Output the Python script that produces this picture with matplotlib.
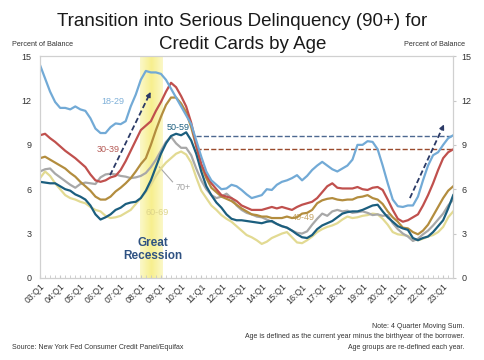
import matplotlib
matplotlib.use('Agg')
import matplotlib.pyplot as plt
from matplotlib.colors import LinearSegmentedColormap
import numpy as np

plt.rcParams['font.family'] = ['Liberation Sans', 'DejaVu Sans']

# quarterly values, 03:Q1 .. 23:Q3 (percent of balance, 4 quarter moving sum)
age_18_29 = [14.4, 13.5, 12.6, 11.9, 11.5, 11.5, 11.4, 11.6, 11.4, 11.3,
             10.8, 10.1, 9.8, 9.8, 10.2, 10.45, 10.4, 10.6, 11.6, 12.4,
             13.4, 14.0, 13.9, 13.9, 13.8, 13.4, 12.8, 12.2, 11.6, 11.0,
             10.4, 9.3, 8.2, 7.2, 6.6, 6.3, 6.0, 6.05, 6.3, 6.2,
             5.95, 5.65, 5.4, 5.5, 5.6, 6.0, 5.95, 6.3, 6.5, 6.6,
             6.75, 6.95, 6.6, 6.9, 7.3, 7.6, 7.85, 7.6, 7.35, 7.2,
             7.4, 7.6, 8.0, 9.0, 9.0, 9.25, 9.2, 8.7, 7.6, 6.4,
             5.3, 4.85, 4.8, 4.9, 4.9, 5.5, 6.6, 7.6, 8.3, 8.5,
             9.0, 9.45, 9.65]
age_30_39 = [9.65, 9.75, 9.45, 9.2, 8.9, 8.6, 8.35, 8.1, 7.8, 7.5,
             7.0, 6.6, 6.5, 6.6, 6.8, 6.9, 7.3, 7.9, 8.6, 9.3,
             10.0, 10.3, 10.6, 11.3, 11.9, 12.6, 13.2, 12.9, 12.3, 11.6,
             10.5, 9.0, 7.7, 6.95, 6.4, 6.0, 5.6, 5.5, 5.4, 5.2,
             4.9, 4.75, 4.6, 4.6, 4.6, 4.7, 4.8, 4.7, 4.8, 4.7,
             4.6, 4.8, 4.95, 5.05, 5.15, 5.4, 5.8, 6.2, 6.4, 6.1,
             6.05, 6.05, 6.05, 6.15, 6.0, 5.95, 6.1, 6.15, 5.95, 5.3,
             4.6, 4.0, 3.8, 3.9, 4.1, 4.3, 4.9, 5.6, 6.4, 7.3,
             8.1, 8.5, 8.7]
age_40_49 = [8.1, 8.2, 8.0, 7.8, 7.6, 7.4, 7.1, 6.85, 6.5, 6.2,
             5.9, 5.5, 5.3, 5.3, 5.5, 5.85, 6.1, 6.4, 6.75, 7.2,
             7.7, 8.1, 9.0, 10.0, 10.9, 11.7, 12.2, 12.2, 11.8, 11.2,
             10.2, 8.9, 7.6, 6.75, 6.1, 5.8, 5.5, 5.35, 5.2, 4.95,
             4.7, 4.5, 4.3, 4.25, 4.15, 4.15, 4.05, 4.05, 4.05, 4.15,
             4.05, 4.1, 4.35, 4.4, 4.6, 5.05, 5.25, 5.35, 5.4, 5.3,
             5.25, 5.3, 5.3, 5.45, 5.5, 5.6, 5.4, 5.3, 5.0, 4.5,
             4.1, 3.8, 3.4, 3.35, 3.1, 2.95, 3.2, 3.6, 4.2, 4.8,
             5.4, 5.9, 6.2]
age_50_59 = [6.5, 6.45, 6.4, 6.4, 6.2, 6.0, 5.9, 5.65, 5.5, 5.3,
             4.9, 4.3, 3.95, 4.1, 4.3, 4.6, 4.75, 5.0, 5.1, 5.15,
             5.4, 5.9, 6.6, 7.5, 8.4, 9.1, 9.6, 9.75, 9.65, 9.85,
             9.3, 8.4, 7.2, 6.2, 5.6, 5.1, 4.75, 4.3, 4.0, 3.9,
             3.9, 3.85, 3.8, 3.75, 3.7, 3.8, 3.85, 3.65, 3.5, 3.4,
             3.2, 2.95, 2.75, 2.7, 2.9, 3.3, 3.55, 3.7, 3.85, 4.1,
             4.35, 4.45, 4.5, 4.5, 4.6, 4.75, 4.9, 4.95, 4.5, 4.1,
             3.8, 3.5, 3.35, 3.25, 2.7, 2.55, 2.7, 2.8, 3.1, 3.5,
             3.9, 4.7, 5.6]
age_60_69 = [6.75, 7.2, 6.9, 6.4, 6.0, 5.6, 5.4, 5.3, 5.15, 5.05,
             4.8, 4.6, 4.5, 4.2, 4.05, 4.1, 4.2, 4.4, 4.6, 5.0,
             5.4, 5.8, 6.3, 6.9, 7.4, 7.8, 8.1, 8.4, 8.55, 8.35,
             7.8, 6.8, 5.9, 5.4, 4.9, 4.6, 4.25, 4.0, 3.8, 3.5,
             3.2, 2.9, 2.75, 2.55, 2.3, 2.45, 2.7, 2.85, 3.0, 3.1,
             2.75, 2.4, 2.35, 2.55, 2.8, 3.1, 3.3, 3.45, 3.55, 3.7,
             3.95, 4.15, 4.05, 4.1, 4.2, 4.25, 4.35, 4.3, 4.0, 3.6,
             3.1, 2.95, 2.9, 2.85, 2.6, 2.55, 2.65, 2.8, 2.9, 3.1,
             3.45, 4.1, 4.5]
age_70_up = [7.2, 7.35, 7.4, 7.05, 6.8, 6.55, 6.3, 6.1, 6.35, 6.45,
             6.4, 6.35, 6.8, 7.0, 7.05, 7.0, 6.9, 6.85, 6.75, 6.8,
             6.9, 7.1, 7.5, 8.0, 8.6, 9.2, 9.55, 9.1, 8.8, 8.8,
             8.3, 7.4, 6.6, 6.0, 5.6, 5.4, 5.5, 5.7, 5.4, 4.9,
             4.6, 4.4, 4.3, 4.15, 4.1, 3.95, 3.8, 3.65, 3.5, 3.4,
             3.2, 3.05, 3.0, 3.15, 3.6, 4.0, 4.35, 4.2, 4.5, 4.6,
             4.5, 4.55, 4.4, 4.45, 4.5, 4.4, 4.25, 4.3, 4.2, 4.25,
             3.7, 3.3, 3.0, 2.8, 2.5, 2.65, 2.95, 3.2, 3.55, 3.95,
             4.35, 4.9, 5.3]

group_names = ['18-29', '30-39', '40-49', '50-59', '60-69', '70+']
group_colors = ['#72aad6', '#c0504d', '#b38d3e', '#1b5e7e', '#e2da92', '#a8a8a8']
tick_labels = ['%02d:Q1' % y for y in range(3, 24)]

# annotation helpers (quarter index, value)
recession = (19.8, 24.2)
level_18_29 = 9.6
level_30_39 = 8.7
arrow_2008 = [(13.9, 6.95), (22.2, 12.75)]
arrow_2022 = [(73.4, 5.4), (80.4, 10.55)]


def plot_chart():
    fig = plt.figure(figsize=(4.85, 3.6), dpi=100)
    ax = fig.add_axes([0.0825, 0.228, 0.852, 0.616])

    quarters = np.arange(len(age_18_29))

    # soft yellow band for the recession, brighter in the middle
    band = LinearSegmentedColormap.from_list('band', ['#fbf8c8', '#f7ef8e', '#fbf8c8'])
    grad = np.linspace(0, 1, 64).reshape(1, -1)
    ax.imshow(grad, cmap=band, aspect='auto', extent=(recession[0], recession[1], 0, 15),
              zorder=0)

    series = [age_18_29, age_30_39, age_40_49, age_50_59, age_60_69, age_70_up]
    order = [4, 5, 2, 3, 1, 0]
    for i in order:
        ax.plot(quarters, series[i], color=group_colors[i], lw=1.6, zorder=3)

    # reference levels
    ax.plot([31, quarters[-1]], [level_18_29] * 2, ls='--', color='#4d6890', lw=1.0, zorder=2)
    ax.plot([31, quarters[-1]], [level_30_39] * 2, ls='--', color='#9a4a2c', lw=1.0, zorder=2)

    for (x0, y0), (x1, y1) in [arrow_2008, arrow_2022]:
        ax.plot([x0, x1 - (x1 - x0) * 0.06], [y0, y1 - (y1 - y0) * 0.06],
                ls=(0, (3, 1.6)), color='#2b3a66', lw=1.3, zorder=4)
        ax.annotate('', xy=(x1, y1), xytext=(x1 - (x1 - x0) * 0.1, y1 - (y1 - y0) * 0.1),
                    arrowprops=dict(arrowstyle='-|>', color='#2b3a66', lw=1.0,
                                    mutation_scale=7), zorder=4)

    # group labels
    ax.text(14.5, 11.9, '18-29', color='#7fb0d8', fontsize=6.5, ha='center', va='center')
    ax.text(13.5, 8.7, '30-39', color='#b55a55', fontsize=6.5, ha='center', va='center')
    ax.text(27.4, 10.2, '50-59', color='#1b5e7e', fontsize=6.5, ha='center', va='center', zorder=5)
    ax.text(28.3, 6.1, '70+', color='#a0a0a0', fontsize=6.5, ha='center', va='center')
    ax.plot([26.3, 23.7], [6.5, 7.5], color='#a8a8a8', lw=0.8, zorder=2)
    ax.text(23.2, 4.4, '60-69', color='#ddd48a', fontsize=6.5, ha='center', va='center')
    ax.text(52.2, 4.1, '40-49', color='#c4a466', fontsize=6.5, ha='center', va='center', zorder=2)
    ax.text(22.4, 1.95, 'Great\nRecession', color='#2f5282', fontsize=8.5,
            fontweight='bold', ha='center', va='center', linespacing=1.1)

    ax.set_xlim(0, quarters[-1])
    ax.set_ylim(0, 15)
    ax.set_yticks(range(0, 16, 3))
    ax.set_xticks(range(0, len(tick_labels) * 4, 4))
    ax.set_xticklabels(tick_labels, rotation=45, ha='right', rotation_mode='anchor',
                       fontsize=6.3, color='#333333')
    ax.set_xticks(quarters, minor=True)
    ax.tick_params(axis='x', which='both', direction='in', length=2, color='#c8c8c8', pad=3)
    ax.tick_params(axis='y', length=0, labelsize=6.5, labelcolor='#333333', pad=6)

    ax2 = ax.twinx()
    ax2.set_ylim(0, 15)
    ax2.set_yticks(range(0, 16, 3))
    ax2.tick_params(axis='y', length=2, color='#c8c8c8', labelsize=6.5,
                    labelcolor='#333333', pad=4)
    for a in (ax, ax2):
        for s in a.spines.values():
            s.set_color('#d0d0d0')
            s.set_linewidth(0.8)

    fig.text(0.5, 0.94, 'Transition into Serious Delinquency (90+) for',
             fontsize=13.5, ha='center', va='center', color='#1a1a1a')
    fig.text(0.5, 0.876, 'Credit Cards by Age', fontsize=13.5, ha='center', va='center',
             color='#1a1a1a')
    fig.text(0.025, 0.875, 'Percent of Balance', fontsize=5.2, ha='left', va='center',
             color='#333333')
    fig.text(0.96, 0.875, 'Percent of Balance', fontsize=5.2, ha='right', va='center',
             color='#333333')

    fig.text(0.958, 0.093, 'Note: 4 Quarter Moving Sum.', fontsize=5, ha='right',
             va='center', color='#333333')
    fig.text(0.958, 0.064,
             'Age is defined as the current year minus the birthyear of the borrower.',
             fontsize=5, ha='right', va='center', color='#333333')
    fig.text(0.958, 0.036, 'Age groups are re-defined each year.', fontsize=5,
             ha='right', va='center', color='#333333')
    fig.text(0.025, 0.036, 'Source: New York Fed Consumer Credit Panel/Equifax',
             fontsize=5, ha='left', va='center', color='#333333')

    fig.savefig('out.png', dpi=100)


if __name__ == "__main__":
    plot_chart()
